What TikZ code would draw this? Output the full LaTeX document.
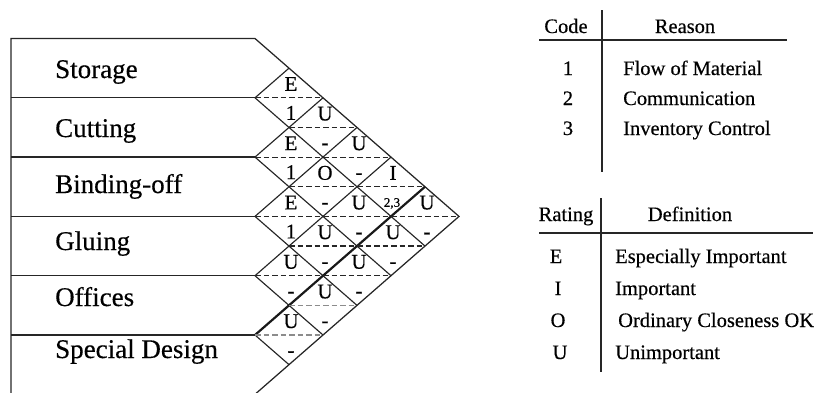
\documentclass[tikz,border=0pt]{standalone}
\usepackage{fontspec}
\setmainfont{Liberation Serif}[FakeBold=0.4]
\begin{document}
\begin{tikzpicture}[x=1pt,y=-1pt,
  boxline/.style={line width=1.25pt, black!85},
  gridline/.style={line width=1.15pt, black!85},
  boldline/.style={line width=2.2pt, black!90},
  dashline/.style={line width=1.2pt, black!85, dash pattern=on 5.5pt off 3pt},
  lightdash/.style={line width=1.1pt, black!45, dash pattern=on 5.5pt off 3pt},
  rowlabel/.style={anchor=base west, inner sep=0pt, font=\fontsize{27}{30}\selectfont},
  rate/.style={anchor=base, inner sep=0pt, font=\fontsize{21}{23}\selectfont},
  small/.style={anchor=base, inner sep=0pt, font=\fontsize{13}{15}\selectfont},
  tabtext/.style={anchor=base west, inner sep=0pt, font=\fontsize{20.5}{23}\selectfont},
  tabkey/.style={anchor=base, inner sep=0pt, font=\fontsize{20.5}{23}\selectfont},
  rule/.style={line width=1.2pt, black!85}
]
\useasboundingbox (0,0) rectangle (819,392);
\begin{scope}
\clip (0,0) rectangle (819,392);
% left box and outline
\draw[boxline] (11,400) -- (11,38.5) -- (255,38.5) -- (459,216.4) -- (255,394.3);
\foreach \k in {1,...,5}
  \draw[boxline] (11,{38.5+59.3*\k}) -- (255,{38.5+59.3*\k});
% down-right grid lines
\foreach \k in {1,...,5}
  \draw[gridline] (255,{38.5+59.3*\k}) -- ++({34*(6-\k)},{29.65*(6-\k)});
% up-right grid lines
\foreach \k in {1,...,4}
  \draw[gridline] (255,{38.5+59.3*\k}) -- ++({34*\k},{-29.65*\k});
\draw[boldline] (255,{38.5+59.3*5}) -- ++(170,{-29.65*5});
% dashed centre lines
\foreach \L/\a/\e in {2/0/2, 3/1/3, 4/0/4, 5/1/5, 6/0/6, 7/1/5, 8/0/4}
  \draw[dashline] ({255+34*\a},{38.5+29.65*\L}) -- ({255+34*\e},{38.5+29.65*\L});
\foreach \L/\a/\e in {9/1/3, 10/0/2}
  \draw[lightdash] ({255+34*\a},{38.5+29.65*\L}) -- ({255+34*\e},{38.5+29.65*\L});
\end{scope}
% department labels
\node[rowlabel] (storage) at (55,78) {Storage};
\node[rowlabel] (cutting) at (55,137) {Cutting};
\node[rowlabel] (binding) at (55,193) {Binding-off};
\node[rowlabel] (gluing) at (55,250) {Gluing};
\node[rowlabel] (offices) at (55,306) {Offices};
\node[rowlabel] (special) at (55,358) {Special Design};
% ratings and reasons
\foreach \i/\j/\rt/\rs in {0/1/E/1, 0/2/U/-, 0/3/U/-, 0/5/U/-,
  1/2/E/1, 1/3/O/-, 1/4/U/-, 1/5/U/-, 2/3/E/1, 2/4/U/-, 2/5/U/-,
  3/4/U/-, 3/5/U/-, 4/5/U/-} {
  \node[rate] (r\i\j) at ({257+34*(\j-\i)},{38.5+29.65*(\i+\j+1)-7}) {\rt};
  \node[rate] (c\i\j) at ({257+34*(\j-\i)},{38.5+29.65*(\i+\j+1)+22}) {\rs};
}
\node[rate] (r04) at ({257+34*4},{38.5+29.65*5-7}) {I};
\node[small] (c04) at ({256+34*4},{38.5+29.65*5+20}) {2,3};
% reason code table
\node[tabkey] (codeh) at (566,33) {Code};
\node[tabkey] (reasonh) at (685,33) {Reason};
\draw[rule] (539,40) -- (787,40);
\draw[rule] (602,10) -- (602,172);
\node[tabkey] (k1) at (568,75) {1};
\node[tabkey] (k2) at (568,105) {2};
\node[tabkey] (k3) at (568,135) {3};
\node[tabtext] (t1) at (623,75) {Flow of Material};
\node[tabtext] (t2) at (623,105) {Communication};
\node[tabtext] (t3) at (623,135) {Inventory Control};
% rating table
\node[tabkey] (ratingh) at (566,221) {Rating};
\node[tabkey] (defh) at (690,221) {Definition};
\draw[rule] (539,233) -- (813,233);
\draw[rule] (601,198) -- (601,372);
\node[tabkey] (kE) at (556,263) {E};
\node[tabkey] (kI) at (558,295) {I};
\node[tabkey] (kO) at (558,327) {O};
\node[tabkey] (kU) at (560,359) {U};
\node[tabtext] (dE) at (615,263) {Especially Important};
\node[tabtext] (dI) at (615,295) {Important};
\node[tabtext] (dO) at (618,327) {Ordinary Closeness OK};
\node[tabtext] (dU) at (615,359) {Unimportant};
\end{tikzpicture}
\end{document}
